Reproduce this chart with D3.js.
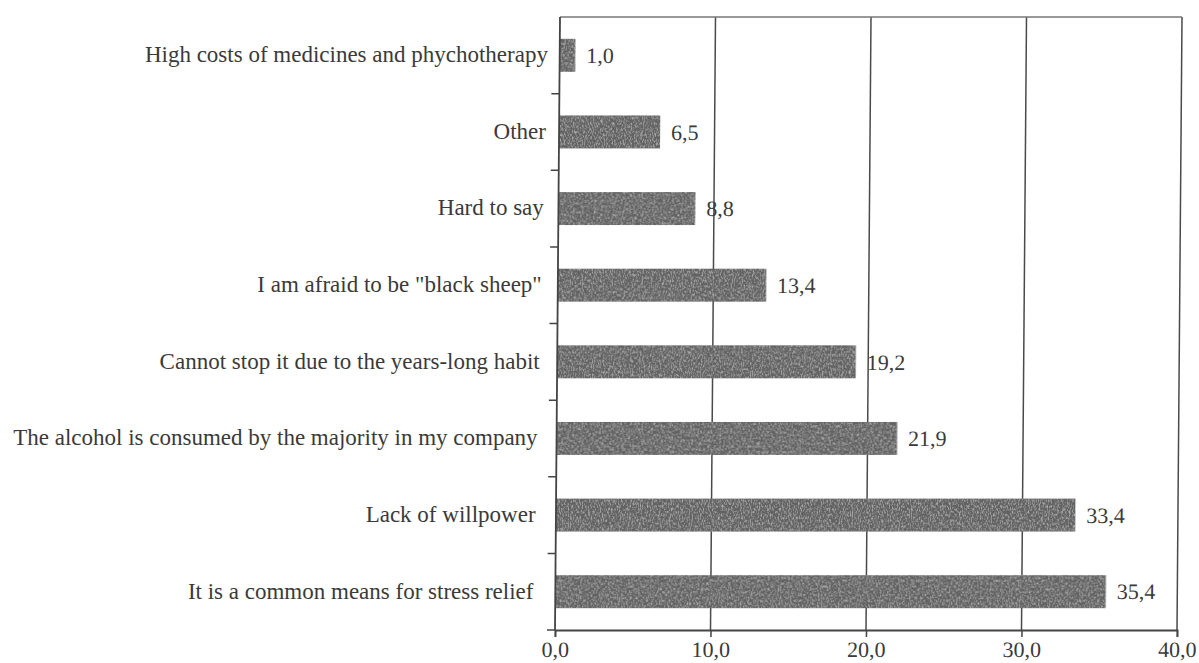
<!DOCTYPE html>
<html>
<head>
<meta charset="utf-8">
<script src="https://cdn.jsdelivr.net/npm/d3@7"></script>
<style>
  html, body { margin: 0; padding: 0; background: #fff; }
  svg { display: block; }
  text { font-family: "Liberation Serif", "Times New Roman", serif; fill: #3a3a3a; }
</style>
</head>
<body>
<svg id="chart" width="1199" height="663"></svg>
<script>
// data (top to bottom)
var categories = [
  'High costs of medicines and phychotherapy',
  'Other',
  'Hard to say',
  'I am afraid to be "black sheep"',
  'Cannot stop it due to the years-long habit',
  'The alcohol is consumed by the majority in my company',
  'Lack of willpower',
  'It is a common means for stress relief'
];
var values = [1.0, 6.5, 8.8, 13.4, 19.2, 21.9, 33.4, 35.4];
var xTicks = [0, 10, 20, 30, 40];

var svg = d3.select('#chart'),
    plotW = 622,
    plotH = 613,
    plotLeft = 555, plotTop = 17,
    shear = 5; // the scan leans a little

var locale = d3.formatLocale({ decimal: ',', thousands: ' ', grouping: [3], currency: ['', ''] }),
    fmt = locale.format('.1f');

var x = d3.scaleLinear().domain([0, 40]).range([0, plotW]);
var y = d3.scaleBand().domain(categories).range([0, plotH])
    .paddingInner(0.57).paddingOuter(0.285);

// speckled grey, like the printed bars
var filter = svg.append('defs').append('filter').attr('id', 'grain')
  .attr('x', 0).attr('y', 0).attr('width', 1).attr('height', 1);
filter.append('feTurbulence')
  .attr('type', 'fractalNoise')
  .attr('baseFrequency', '0.9 0.35')
  .attr('numOctaves', 2)
  .attr('seed', 3)
  .attr('result', 'noise');
filter.append('feColorMatrix')
  .attr('in', 'noise')
  .attr('type', 'matrix')
  .attr('values', '0 0 0 0 1  0 0 0 0 1  0 0 0 0 1  0.9 0 0 0 -0.4')
  .attr('result', 'speck');
filter.append('feComposite')
  .attr('in', 'speck').attr('in2', 'SourceGraphic')
  .attr('operator', 'in').attr('result', 'speckIn');
var merge = filter.append('feMerge');
merge.append('feMergeNode').attr('in', 'SourceGraphic');
merge.append('feMergeNode').attr('in', 'speckIn');

// plot group, sheared like the scanned page
var g = svg.append('g')
    .attr('transform', 'translate(' + (plotLeft + shear) + ',' + plotTop + ') skewX(' +
      (-Math.atan(shear / plotH) * 180 / Math.PI) + ')');

// vertical gridlines + top border
g.append('g').selectAll('line')
  .data(xTicks.slice(1))
  .enter().append('line')
  .attr('x1', function(d) { return x(d); })
  .attr('x2', function(d) { return x(d); })
  .attr('y1', 0)
  .attr('y2', plotH)
  .attr('stroke', '#4a4a4a')
  .attr('stroke-width', 1.5);

g.append('line')
  .attr('x1', 0).attr('x2', plotW)
  .attr('y1', 0).attr('y2', 0)
  .attr('stroke', '#777')
  .attr('stroke-width', 1.5);

// bars
g.append('g').selectAll('rect')
  .data(values)
  .enter().append('rect')
  .attr('x', x(0))
  .attr('y', function(d, i) { return y(categories[i]); })
  .attr('width', function(d) { return x(d) - x(0); })
  .attr('height', y.bandwidth())
  .attr('fill', '#626262')
  .attr('filter', 'url(#grain)');

// value labels
g.append('g').selectAll('text')
  .data(values)
  .enter().append('text')
  .attr('x', function(d) { return x(d) + 11; })
  .attr('y', function(d, i) { return y(categories[i]) + y.bandwidth() / 2; })
  .attr('dy', '0.35em')
  .attr('font-size', 22)
  .text(function(d) { return fmt(d); });

// x axis
var xAxis = d3.axisBottom(x)
  .tickValues(xTicks)
  .tickSize(7)
  .tickPadding(4)
  .tickFormat(fmt);

var gx = g.append('g')
  .attr('transform', 'translate(0,' + plotH + ')')
  .call(xAxis);
gx.select('.domain').attr('stroke', '#444').attr('stroke-width', 1.8);
gx.selectAll('.tick line').attr('stroke', '#444').attr('stroke-width', 1.5);
gx.selectAll('.tick text')
  .attr('font-size', 22)
  .attr('font-family', '"Liberation Serif", serif')
  .attr('fill', '#3a3a3a');

// y axis line and ticks at category borders
g.append('line')
  .attr('x1', 0).attr('x2', 0)
  .attr('y1', 0).attr('y2', plotH)
  .attr('stroke', '#444')
  .attr('stroke-width', 1.8);

var borders = d3.range(categories.length).map(function(i) {
  return y(categories[i]) + y.bandwidth() + y.step() * y.paddingInner() / 2;
});
g.append('g').selectAll('line')
  .data(borders)
  .enter().append('line')
  .attr('x1', -8).attr('x2', 0)
  .attr('y1', function(d) { return d; })
  .attr('y2', function(d) { return d; })
  .attr('stroke', '#444')
  .attr('stroke-width', 1.5);

// category labels (they drift left a bit going down the page)
svg.append('g').selectAll('text')
  .data(categories)
  .enter().append('text')
  .attr('x', function(d) {
    var cy = y(d) + y.bandwidth() / 2;
    return plotLeft + shear - 11 - cy * 0.027;
  })
  .attr('y', function(d) { return plotTop + y(d) + y.bandwidth() / 2; })
  .attr('dy', '0.3em')
  .attr('text-anchor', 'end')
  .attr('font-size', 23)
  .text(function(d) { return d; });
</script>
</body>
</html>
